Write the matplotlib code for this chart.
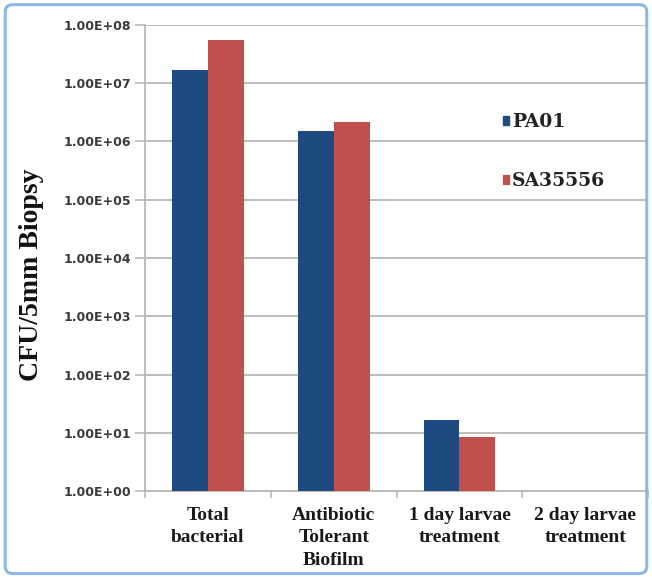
import numpy as np
import matplotlib
matplotlib.use("Agg")
import matplotlib.pyplot as plt
from matplotlib.patches import FancyBboxPatch, Patch
from matplotlib.ticker import FixedLocator, FuncFormatter, NullLocator

categories = ["Total\nbacterial", "Antibiotic\nTolerant\nBiofilm", "1 day larvae\ntreatment", "2 day larvae\ntreatment"]
series_names = ["PA01", "SA35556"]
pa01 = [1.7e7, 1.53e6, 16.5, 0]
sa35556 = [5.6e7, 2.17e6, 8.5, 0]
ytick_values = [1e0, 1e1, 1e2, 1e3, 1e4, 1e5, 1e6, 1e7, 1e8]

blue = "#1F4A7F"
red = "#C0504D"
grid_c = "#BDB8B3"

fig = plt.figure(figsize=(6.52, 5.77), dpi=100)
ax = fig.add_axes([0.2225, 0.149, 0.7715, 0.8077])

x = np.arange(len(categories))
w = 0.2857

def mask(v):
    return [np.nan if a <= 0 else a for a in v]

ax.set_yscale("log")
ax.bar(x - w / 2, mask(pa01), w, color=blue, zorder=3, bottom=0)
ax.bar(x + w / 2, mask(sa35556), w, color=red, zorder=3, bottom=0)
ax.set_ylim(1, 1e8)
ax.set_xlim(-0.5, len(categories) - 0.5)

ax.yaxis.set_major_locator(FixedLocator(ytick_values))
ax.yaxis.set_minor_locator(NullLocator())
ax.yaxis.set_major_formatter(FuncFormatter(lambda v, p: f"{v:.2E}"))
ax.grid(axis="y", color=grid_c, linewidth=1.3, zorder=0)
ax.tick_params(axis="y", which="major", length=7, color=grid_c, width=1.2,
               labelsize=9, labelcolor="#3a3a3a", pad=3)
for t in ax.get_yticklabels():
    t.set_fontweight("bold")
    t.set_family("DejaVu Sans")

ax.set_xticks(np.arange(-0.5, len(categories), 1.0))
ax.set_xticklabels([])
ax.tick_params(axis="x", which="major", length=5, color=grid_c, width=1.2)
ax.set_xticks(x, minor=True)
ax.set_xticklabels(categories, minor=True, fontfamily="Liberation Serif",
                   fontweight="bold", fontsize=14, color="#1a1a1a", linespacing=1.42)
ax.tick_params(axis="x", which="minor", length=0, pad=11.5)

for s in ["top", "right"]:
    ax.spines[s].set_visible(False)
for s in ["left", "bottom"]:
    ax.spines[s].set_color(grid_c)
    ax.spines[s].set_linewidth(1.3)

fig.text(0.049, 1 - 275 / 577, "CFU/5mm Biopsy", rotation=90, ha="center",
         va="center", fontfamily="Liberation Serif", fontweight="bold", fontsize=20,
         color="#111111")

handles = [Patch(color=blue), Patch(color=red)]
leg = fig.legend(handles, series_names, loc="center left",
                 bbox_to_anchor=(0.771, 1 - 151.5 / 577), frameon=False,
                 handlelength=0.35, handleheight=0.35, handletextpad=0.15,
                 labelspacing=2.2, borderpad=0, borderaxespad=0,
                 prop={"family": "DejaVu Serif", "weight": "bold", "size": 13.5})
for t in leg.get_texts():
    t.set_color("#222222")

border = FancyBboxPatch((0.008, 0.006), 0.984, 0.986, boxstyle="round,pad=0,rounding_size=0.012",
                        transform=fig.transFigure, facecolor="none", edgecolor="#8BB8E8",
                        linewidth=2.2)
fig.patches.append(border)

fig.savefig("out.png", dpi=100)
